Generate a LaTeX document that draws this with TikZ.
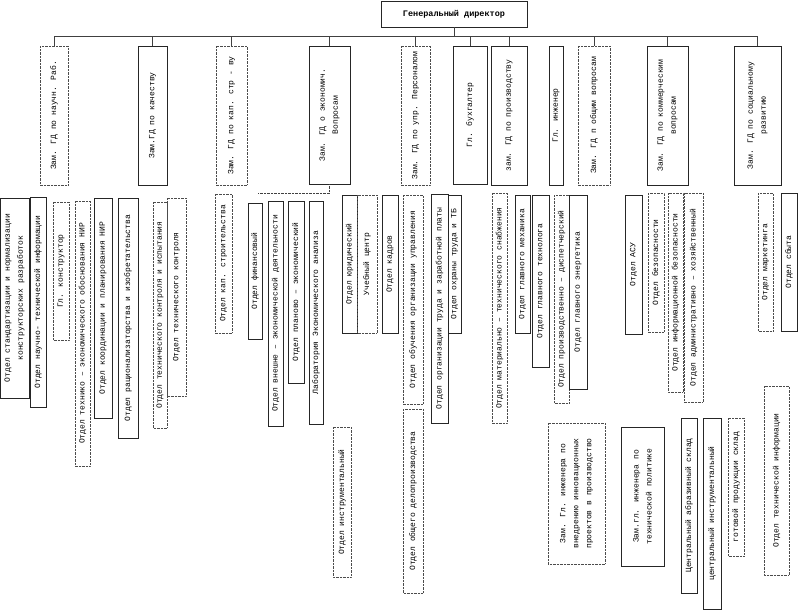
\documentclass[tikz,border=0pt]{standalone}
\usepackage{fontspec}
\newfontfamily\orgfont{Liberation Mono}
\usetikzlibrary{positioning}

\begin{document}
\begin{tikzpicture}[x=1pt,y=-1pt,
  font=\orgfont\fontsize{8}{13}\selectfont,
  sz/.style 2 args={minimum width=#1pt,minimum height=#2pt},
  box/.style={inner sep=1pt,align=center,rotate=90},
  sbox/.style={box,draw=black!85},
  dbox/.style={box,draw=black!70,densely dotted},
  link/.style={draw=black!75}]
  \useasboundingbox (0,0) rectangle (800,613);
  \node[draw=black!85,minimum width=146pt,minimum height=26pt,
    font=\orgfont\bfseries\fontsize{8.5}{10}\selectfont] (gd) at (454,14) {Генеральный директор};

  % заместители
  \node[dbox,sz={139}{28}] (nauch) at (54,115.5) {Зам. ГД по научн. Раб.};
  \node[sbox,sz={139}{29}] (kach) at (152.5,115.5) {Зам.ГД по качеству};
  \node[dbox,sz={139}{31}] (kap) at (231.5,115.5) {Зам. ГД по кап. стр - ву};
  \node[sbox,sz={138}{41}] (econ) at (329.5,115) {Зам. ГД о экономич.\\Вопросам};
  \node[dbox,sz={139}{29}] (pers) at (415.5,115.5) {Зам. ГД по упр. Персоналом};
  \node[sbox,sz={138}{34}] (buh) at (470,115) {Гл. бухгалтер};
  \node[sbox,sz={139}{36}] (proizv) at (509,115.5) {зам. ГД по производству};
  \node[sbox,sz={139}{14}] (inzh) at (556,115.5) {Гл. инженер};
  \node[dbox,sz={139}{32}] (obsh) at (594,115.5) {Зам. ГД п общим вопросам};
  \node[sbox,sz={139}{41}] (komm) at (667.5,115.5) {Зам. ГД по коммерческим\\вопросам};
  \node[sbox,sz={139}{47}] (soc) at (757.5,115.5) {Зам. ГД по социальному\\развитию};

  \coordinate (busy) at (0,36);
  \draw[link] (nauch.east |- busy) -- (soc.east |- busy);
  \draw[link] (gd.south) -- (gd.south |- busy);
  \foreach \z in {nauch,kach,kap,econ,pers,buh,proizv,obsh,komm,soc}
    \draw[link] (\z.east) -- (\z.east |- busy);

  % отделы
  \node[sbox,sz={200}{29}] (std) at (14.5,298) {Отдел стандартизации и нормализации\\конструкторских разработок};
  \node[sbox,sz={210}{16}] (nti) at (38,302) {Отдел научно- технической информации};
  \node[dbox,sz={138}{16}] (glk) at (61,271) {Гл. конструктор};
  \node[dbox,sz={265}{15}] (teo) at (82.5,333.5) {Отдел технико – экономического обоснования НИР};
  \node[sbox,sz={220}{18}] (koord) at (103,308) {Отдел координации и планирования НИР};
  \node[sbox,sz={240}{20}] (rats) at (128,318) {Отдел рационализаторства и изобретательства};
  \node[dbox,sz={226}{14}] (tki) at (160,315) {Отдел технического контроля и испытания};
  \node[dbox,sz={198}{19}] (tk) at (176.5,297) {Отдел технического контроля};
  \node[dbox,sz={139}{17}] (ks) at (223.5,263.5) {Отдел кап. строительства};
  \node[sbox,sz={136}{14}] (fin) at (255,271) {Отдел финансовый};
  \node[sbox,sz={225}{15}] (ved) at (275.5,313.5) {Отдел внешне – экономической деятельности};
  \node[sbox,sz={182}{16}] (plan) at (296,292) {Отдел планово – экономический};
  \node[sbox,sz={223}{14}] (lab) at (316,312.5) {Лаборатория Экономического анализа};
  \node[sbox,sz={138}{15}] (yur) at (349.5,264) {Отдел юридический};
  \node[dbox,sz={138}{20}] (uch) at (367,264) {Учебный центр};
  \node[sbox,sz={138}{16}] (kadr) at (390,264) {Отдел кадров};
  \node[dbox,sz={209}{20}] (obuch) at (413,299.5) {Отдел обучения организации управления};
  \node[dbox,sz={184}{20}] (delo) at (413,501) {Отдел общего делопроизводства};
  \node[sbox,sz={229}{17}] (otzp) at (439.5,308.5) {Отдел организации труда и заработной платы};
  \node[sbox,sz={138}{13}] (ohr) at (454.5,264) {Отдел охраны труда и ТБ};
  \node[dbox,sz={230}{15}] (mts) at (499.5,308) {Отдел материально – технического снабжения};
  \node[sbox,sz={138}{15}] (meh) at (522.5,264) {Отдел главного механика};
  \node[sbox,sz={172}{17}] (tehn) at (540.5,281) {Отдел главного технолога};
  \node[dbox,sz={208}{15}] (disp) at (561.5,299) {Отдел производственно – диспетчерский};
  \node[sbox,sz={194}{18}] (energ) at (578,292) {Отдел главного энергетика};
  \node[sbox,sz={139}{17}] (asu) at (633.5,264.5) {Отдел АСУ};
  \node[dbox,sz={139}{16}] (bez) at (656,262.5) {Отдел безопасности};
  \node[dbox,sz={199}{15}] (ibez) at (675.5,292.5) {Отдел информационной безопасности};
  \node[dbox,sz={209}{19}] (ahd) at (693.5,297.5) {Отдел административно – хозяйственный};
  \node[dbox,sz={138}{15}] (mark) at (765.5,262) {Отдел маркетинга};
  \node[sbox,sz={138}{16}] (sbyt) at (789,262) {Отдел сбыта};

  % нижний ряд
  \node[dbox,sz={150}{18}] (instr) at (342,502) {Отдел инструментальный};
  \node[dbox,sz={141}{57}] (innov) at (576.5,493.5) {Зам. Гл. инженера по\\внедрению инновационных\\проектов в производство};
  \node[sbox,sz={139}{43}] (tpol) at (642.5,496.5) {Зам.гл. инженера по\\технической политике};
  \node[sbox,sz={175}{16}] (abr) at (689,505.5) {Центральный абразивный склад};
  \node[sbox,sz={191}{18}] (cinstr) at (712,513.5) {центральный инструментальный};
  \node[dbox,sz={138}{16}] (gotov) at (736,487) {готовой продукции склад};
  \node[dbox,sz={189}{25}] (tinf) at (776.5,480.5) {Отдел технической информации};

  \coordinate (ebus) at (258,193);
  \draw[link,densely dotted] (econ.west) |- (ebus);
\end{tikzpicture}
\end{document}
